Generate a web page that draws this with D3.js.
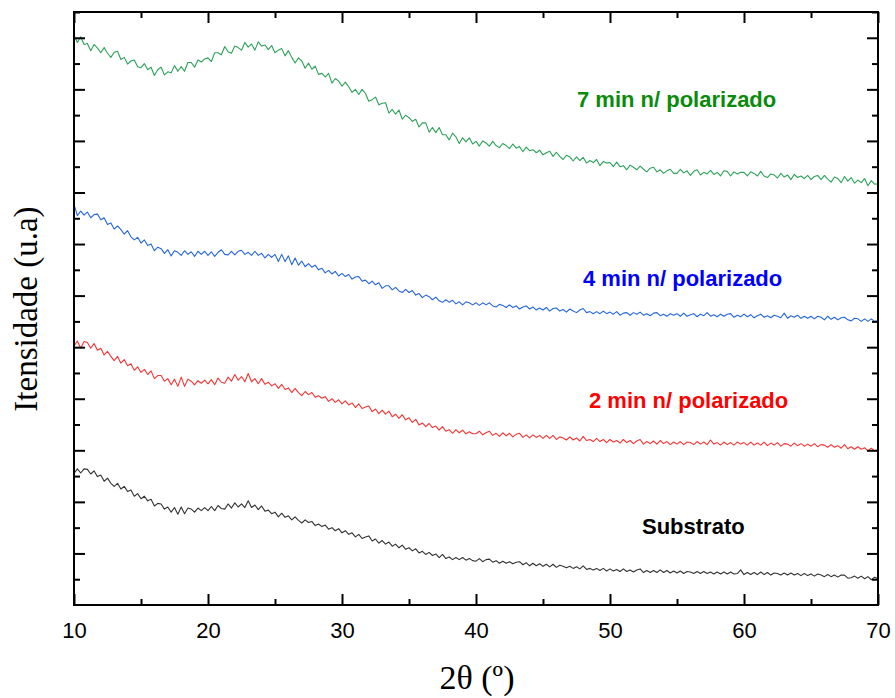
<!DOCTYPE html>
<html>
<head>
<meta charset="utf-8">
<script src="https://cdn.jsdelivr.net/npm/d3@7"></script>
<style>
  html, body { margin: 0; padding: 0; background: #fff; }
  svg { display: block; }
</style>
</head>
<body>
<svg id="chart" width="895" height="698"></svg>
<script>
// ---------------- DATA ----------------
// 2θ sampling grid: 10° to 70°, step 0.25°
const twoTheta = d3.range(241).map(i => 10 + i * 0.25);

const xTickValues = [10, 20, 30, 40, 50, 60, 70];
const xMinorTicks = [15, 25, 35, 45, 55, 65];
const yMajorTicks = [100, 200, 300, 400, 500, 600, 700, 800, 900, 1000, 1100];
const yMinorTicks = [50, 150, 250, 350, 450, 550, 650, 750, 850, 950, 1050, 1150];

const seriesNames = ["Substrato", "2 min n/ polarizado", "4 min n/ polarizado", "7 min n/ polarizado"];

const substrato = [
  255,264,256,264,263,254,260,249,252,240,246,236,230,236,225,230,220,223,211,216,
  206,211,202,205,192,197,196,186,190,180,189,176,190,177,188,186,180,188,183,189,
  183,191,183,193,187,186,196,188,198,190,196,189,202,189,194,185,192,182,184,177,
  180,171,178,170,173,165,171,164,159,165,160,162,154,157,152,155,147,150,144,148,
  140,144,137,140,132,137,129,132,134,124,128,120,125,118,122,114,118,111,116,108,
  111,105,109,101,104,98,102,96,99,92,98,90,93,88,92,88,92,87,90,86,
  85,90,84,88,89,83,86,81,85,81,84,80,83,84,78,82,76,81,76,80,
  75,79,74,79,73,77,75,72,75,71,74,70,76,69,71,68,71,67,71,66,
  70,66,69,65,70,65,68,64,68,70,63,67,63,67,63,68,63,67,62,66,
  62,66,61,65,64,61,65,61,65,61,64,60,64,60,64,60,64,60,61,68,
  59,63,59,63,59,64,59,63,58,62,61,58,62,58,62,58,61,57,61,57,
  60,56,60,58,55,59,55,58,54,58,58,52,53,56,52,56,51,55,49,54,
  51
];

const min2 = [
  502,512,498,511,509,498,507,494,498,485,492,482,474,482,469,476,464,468,455,462,
  451,457,447,454,439,445,445,434,439,427,438,424,442,424,438,434,427,435,430,436,
  429,437,427,440,432,430,442,434,447,436,443,433,449,433,439,429,439,428,432,425,
  429,420,428,418,421,412,420,412,406,414,408,412,403,406,401,404,395,400,393,398,
  390,396,388,392,383,390,381,384,386,375,380,371,378,370,376,365,370,362,369,359,
  363,354,360,349,353,346,352,344,347,339,346,337,340,333,340,334,339,332,336,332,
  332,337,330,334,337,329,333,327,334,328,333,326,331,333,325,330,324,330,325,329,
  323,329,323,329,321,326,324,320,326,320,324,318,327,319,321,317,323,317,321,315,
  321,316,319,314,321,315,319,313,318,321,312,317,313,318,312,319,313,317,311,316,
  312,317,311,316,315,311,317,312,316,311,320,312,315,310,316,311,315,310,316,312,
  315,310,316,310,314,310,316,309,314,310,315,308,313,312,308,314,309,313,308,312,
  308,313,307,311,310,306,311,306,309,304,311,303,307,302,307,302,305,299,304,299,
  301
];

const min4 = [
  777,755,764,756,762,751,757,758,747,751,738,741,729,735,728,719,726,714,708,713,
  702,708,697,700,687,694,691,682,689,677,687,684,678,687,680,685,676,686,680,686,
  678,685,676,684,689,680,679,686,679,686,688,680,684,678,686,678,682,673,680,674,
  680,666,680,666,677,660,673,659,667,656,662,655,659,650,653,644,649,642,647,638,
  643,637,641,632,636,637,628,630,623,628,621,625,614,619,619,611,616,609,606,612,
  606,610,601,604,596,601,598,592,597,590,587,592,587,591,584,588,582,588,586,582,
  586,581,586,582,586,580,578,583,581,577,582,577,580,574,578,580,574,578,572,576,
  572,577,570,575,576,570,573,568,574,570,567,572,575,567,569,565,569,565,570,565,
  568,564,569,562,566,567,562,567,564,568,562,565,561,566,567,561,564,560,565,562,
  565,560,566,560,563,565,559,564,561,567,560,563,559,564,560,564,565,558,562,559,
  564,559,563,557,561,564,558,561,557,562,560,557,566,556,561,558,562,556,560,556,
  560,555,560,558,553,560,554,558,553,557,558,553,551,556,555,550,555,550,555,550,
  551
];

const min7 = [
  1105,1091,1102,1087,1089,1075,1087,1080,1071,1081,1070,1062,1072,1074,1058,1062,1049,1055,1057,1044,
  1042,1050,1038,1043,1027,1038,1043,1028,1034,1032,1046,1035,1044,1035,1052,1052,1043,1057,1053,1059,
  1061,1054,1071,1071,1067,1083,1073,1070,1084,1081,1076,1091,1082,1088,1076,1092,1084,1086,1077,1085,
  1071,1076,1079,1065,1075,1062,1051,1061,1055,1041,1051,1039,1045,1029,1031,1024,1031,1012,1021,1016,
  1006,1014,1005,994,1000,990,1000,992,977,980,985,970,973,974,954,961,952,960,942,950,
  945,938,942,927,935,935,917,926,916,926,912,912,902,915,908,895,906,898,906,894,
  899,890,900,896,890,899,891,887,895,891,885,894,886,889,879,888,881,883,877,882,
  873,877,880,870,878,870,864,872,869,861,869,862,868,857,862,858,864,852,860,857,
  858,850,859,850,852,844,853,849,844,851,845,840,847,849,840,844,837,842,845,837,
  837,845,838,842,833,841,844,834,839,836,843,835,839,832,842,841,832,840,836,839,
  839,832,840,837,832,841,832,829,836,834,828,837,830,834,825,835,829,832,827,833,
  825,831,833,825,833,826,820,830,827,819,831,822,829,818,824,819,827,813,823,816,
  817
];

// ---------------- LAYOUT ----------------
const svg = d3.select("#chart");
const plot = { left: 74, right: 878, top: 12, bottom: 605 };

const x = d3.scaleLinear().domain([10, 70]).range([plot.left, plot.right]);
const y = d3.scaleLinear().domain([0, 1150]).range([plot.bottom, plot.top]);

const series = [
  { name: seriesNames[0], values: substrato, line: "#333333", text: "#000000", lx: 642, ly: 534 },
  { name: seriesNames[1], values: min2, line: "#f53535", text: "#ff0000", lx: 589, ly: 408 },
  { name: seriesNames[2], values: min4, line: "#2466de", text: "#0000ff", lx: 583, ly: 286 },
  { name: seriesNames[3], values: min7, line: "#2ca25a", text: "#0a8c0a", lx: 577, ly: 107 }
];

const lineGen = d3.line()
  .x((d, i) => x(twoTheta[i]))
  .y(d => y(d));

const gLines = svg.append("g");
series.forEach(s => {
  gLines.append("path")
    .datum(s.values)
    .attr("d", lineGen)
    .attr("fill", "none")
    .attr("stroke", s.line)
    .attr("stroke-width", 1.1)
    .attr("stroke-linejoin", "round");
});

// ---------------- AXES ----------------
function styleAxis(g) {
  g.select(".domain").remove();
  g.selectAll(".tick line").attr("stroke", "#000").attr("stroke-width", 2);
}

// bottom major with labels
const gxB = svg.append("g")
  .attr("transform", `translate(0,${plot.bottom})`)
  .call(d3.axisBottom(x).tickValues(xTickValues).tickFormat(d3.format("d"))
    .tickSizeInner(-11).tickSizeOuter(0).tickPadding(17));
styleAxis(gxB);
gxB.selectAll(".tick text")
  .attr("font-family", "'Liberation Sans', Arial, sans-serif")
  .attr("font-size", 22)
  .attr("fill", "#000");

// bottom minor
const gxBm = svg.append("g")
  .attr("transform", `translate(0,${plot.bottom})`)
  .call(d3.axisBottom(x).tickValues(xMinorTicks).tickFormat("").tickSizeInner(-6).tickSizeOuter(0));
styleAxis(gxBm);

// top major + minor
const gxT = svg.append("g")
  .attr("transform", `translate(0,${plot.top})`)
  .call(d3.axisTop(x).tickValues(xTickValues).tickFormat("").tickSizeInner(-11).tickSizeOuter(0));
styleAxis(gxT);
const gxTm = svg.append("g")
  .attr("transform", `translate(0,${plot.top})`)
  .call(d3.axisTop(x).tickValues(xMinorTicks).tickFormat("").tickSizeInner(-6).tickSizeOuter(0));
styleAxis(gxTm);

// left major + minor
const gyL = svg.append("g")
  .attr("transform", `translate(${plot.left},0)`)
  .call(d3.axisLeft(y).tickValues(yMajorTicks).tickFormat("").tickSizeInner(-11).tickSizeOuter(0));
styleAxis(gyL);
const gyLm = svg.append("g")
  .attr("transform", `translate(${plot.left},0)`)
  .call(d3.axisLeft(y).tickValues(yMinorTicks).tickFormat("").tickSizeInner(-6).tickSizeOuter(0));
styleAxis(gyLm);

// right major + minor
const gyR = svg.append("g")
  .attr("transform", `translate(${plot.right},0)`)
  .call(d3.axisRight(y).tickValues(yMajorTicks).tickFormat("").tickSizeInner(-11).tickSizeOuter(0));
styleAxis(gyR);
const gyRm = svg.append("g")
  .attr("transform", `translate(${plot.right},0)`)
  .call(d3.axisRight(y).tickValues(yMinorTicks).tickFormat("").tickSizeInner(-6).tickSizeOuter(0));
styleAxis(gyRm);

// frame
svg.append("rect")
  .attr("x", plot.left).attr("y", plot.top)
  .attr("width", plot.right - plot.left).attr("height", plot.bottom - plot.top)
  .attr("fill", "none").attr("stroke", "#000").attr("stroke-width", 2);

// ---------------- TITLES ----------------
svg.append("text")
  .attr("x", (plot.left + plot.right) / 2 + 1)
  .attr("y", 689)
  .attr("text-anchor", "middle")
  .attr("font-family", "'Liberation Serif', 'Times New Roman', serif")
  .attr("font-size", 34)
  .attr("fill", "#000")
  .text("2θ (º)");

svg.append("text")
  .attr("transform", `translate(37,309) rotate(-90)`)
  .attr("text-anchor", "middle")
  .attr("font-family", "'Liberation Serif', 'Times New Roman', serif")
  .attr("font-size", 33)
  .attr("fill", "#000")
  .text("Itensidade (u.a)");

// ---------------- SERIES LABELS ----------------
series.forEach(s => {
  svg.append("text")
    .attr("x", s.lx)
    .attr("y", s.ly)
    .attr("font-family", "'Liberation Sans', Arial, sans-serif")
    .attr("font-weight", "bold")
    .attr("font-size", 22)
    .attr("fill", s.text)
    .text(s.name);
});
</script>
</body>
</html>
